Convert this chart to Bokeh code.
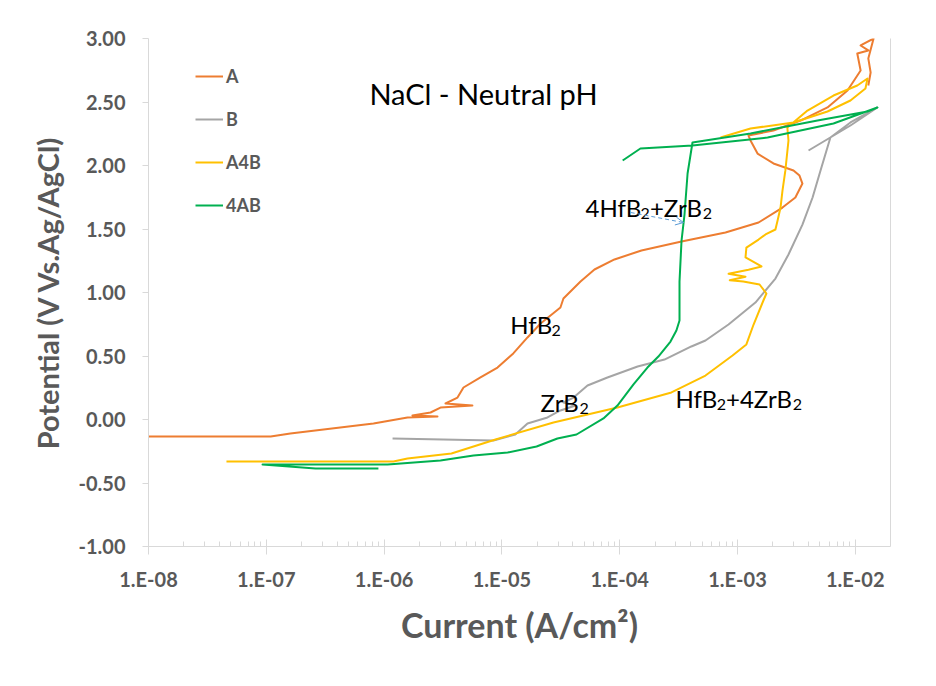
from bokeh.plotting import figure
from bokeh.models import (FixedTicker, PrintfTickFormatter, Legend, LegendItem,
                          Label, Arrow, OpenHead, LinearAxis, Range1d)
from bokeh.embed import file_html
from bokeh.resources import INLINE

# ---------------- data (current in A/cm2, potential in V vs Ag/AgCl) ----------------
a_current = [1.00e-8, 1.09e-7, 1.60e-7, 8.13e-7, 1.58e-6, 2.84e-6, 1.74e-6, 2.48e-6,
             3.01e-6, 5.62e-6, 3.32e-6, 4.20e-6, 4.72e-6, 6.58e-6, 9.18e-6, 1.25e-5,
             1.65e-5, 2.13e-5, 3.14e-5, 3.33e-5, 4.65e-5, 6.11e-5, 9.03e-5, 1.53e-4,
             3.35e-4, 7.91e-4, 1.51e-3, 2.41e-3, 3.10e-3, 3.56e-3, 3.36e-3, 2.99e-3,
             2.02e-3, 1.48e-3, 1.29e-3, 1.24e-3, 2.02e-3, 3.43e-3, 5.81e-3, 8.59e-3,
             1.11e-2, 1.04e-2, 1.29e-2, 1.11e-2, 1.43e-2, 1.29e-2, 1.35e-2, 1.29e-2]
a_potential = [-0.134, -0.134, -0.110, -0.031, 0.016, 0.024, 0.031, 0.055,
               0.094, 0.110, 0.126, 0.173, 0.252, 0.331, 0.409, 0.520,
               0.646, 0.756, 0.882, 0.953, 1.087, 1.181, 1.260, 1.331,
               1.402, 1.472, 1.551, 1.669, 1.748, 1.858, 1.921, 1.961,
               2.016, 2.094, 2.197, 2.236, 2.276, 2.354, 2.457, 2.591,
               2.748, 2.882, 2.906, 2.945, 3.000, 2.843, 2.732, 2.630]

b_current = [1.18e-6, 8.49e-6, 1.30e-5, 1.65e-5, 2.44e-5, 3.14e-5, 4.22e-5, 3.33e-5,
             4.06e-5, 5.33e-5, 7.87e-5, 1.42e-4, 2.40e-4, 4.06e-4, 5.35e-4, 8.39e-4,
             1.42e-3, 2.10e-3, 2.71e-3, 3.56e-3, 4.34e-3, 5.07e-3, 6.15e-3, 9.10e-3,
             1.54e-2, 9.10e-3, 4.01e-3]
b_potential = [-0.150, -0.165, -0.118, -0.031, 0.016, 0.071, 0.110, 0.134,
               0.173, 0.268, 0.331, 0.417, 0.472, 0.575, 0.622, 0.748,
               0.921, 1.110, 1.299, 1.535, 1.748, 1.961, 2.220, 2.339,
               2.457, 2.315, 2.118]

a4b_current = [4.59e-8, 1.20e-6, 1.58e-6, 3.73e-6, 8.83e-6, 2.74e-5, 9.57e-5, 2.75e-4,
               5.35e-4, 9.08e-4, 1.19e-3, 1.37e-3, 1.66e-3, 1.76e-3, 1.54e-3, 1.12e-3,
               8.60e-4, 1.17e-3, 8.40e-4, 1.24e-3, 1.60e-3, 1.17e-3, 1.19e-3, 1.51e-3,
               1.73e-3, 2.10e-3, 2.19e-3, 2.32e-3, 2.41e-3, 2.55e-3, 2.71e-3, 2.65e-3,
               3.93e-3, 6.53e-3, 1.04e-2, 1.27e-2, 1.22e-2, 9.10e-3, 5.81e-3, 2.99e-3,
               1.29e-3, 7.18e-4]
a4b_potential = [-0.331, -0.331, -0.307, -0.268, -0.157, -0.024, 0.094, 0.213,
                 0.346, 0.504, 0.591, 0.748, 0.937, 0.992, 1.063, 1.087,
                 1.097, 1.124, 1.147, 1.179, 1.205, 1.276, 1.354, 1.417,
                 1.457, 1.496, 1.567, 1.669, 1.803, 1.961, 2.197, 2.299,
                 2.433, 2.551, 2.630, 2.685, 2.606, 2.512, 2.425, 2.339,
                 2.291, 2.220]

ab4_current = [8.95e-7, 2.62e-7, 9.29e-8, 1.07e-6, 3.01e-6, 5.74e-6, 1.12e-5, 1.97e-5,
               2.96e-5, 4.30e-5, 7.28e-5, 9.57e-5, 1.31e-4, 1.72e-4, 2.13e-4, 2.70e-4,
               3.03e-4, 3.22e-4, 3.22e-4, 3.35e-4, 3.55e-4, 3.77e-4, 4.15e-4, 1.29e-3,
               4.78e-3, 1.27e-2, 1.54e-2, 6.53e-3, 1.80e-3, 4.15e-4, 1.50e-4, 1.06e-4]
ab4_potential = [-0.386, -0.386, -0.354, -0.354, -0.323, -0.283, -0.260, -0.213,
                 -0.150, -0.118, 0.008, 0.110, 0.276, 0.409, 0.496, 0.614,
                 0.701, 0.780, 1.087, 1.409, 1.614, 1.937, 2.181, 2.252,
                 2.354, 2.425, 2.457, 2.331, 2.220, 2.157, 2.134, 2.039]

series_names = ["A", "B", "A4B", "4AB"]
x_ticks = [1e-8, 1e-7, 1e-6, 1e-5, 1e-4, 1e-3, 1e-2]
x_tick_labels = ["1.E-08", "1.E-07", "1.E-06", "1.E-05", "1.E-04", "1.E-03", "1.E-02"]
y_ticks = [-1.0, -0.5, 0.0, 0.5, 1.0, 1.5, 2.0, 2.5, 3.0]

# ---------------- styling ----------------
FONT = "Lato"
GREY_TXT = "#595959"
AXIS_GREY = "#D9D9D9"
colors = ["#ED7D31", "#A5A5A5", "#FFC000", "#00B050"]

p = figure(width=936, height=686, x_axis_type="log", output_backend="svg",
           toolbar_location=None,
           x_range=Range1d(1e-8, 10 ** -1.701), y_range=Range1d(-1.0, 3.0),
           min_border_left=148, min_border_right=46, min_border_top=38,
           min_border_bottom=140)
p.outline_line_color = None
p.grid.visible = False
p.background_fill_color = "white"
p.border_fill_color = "white"

# x axis
minor = [m * d for d in x_ticks for m in range(2, 10)]
p.xaxis.ticker = FixedTicker(ticks=x_ticks, minor_ticks=minor)
p.xaxis.major_label_overrides = {t: l for t, l in zip(x_ticks, x_tick_labels)}
p.xaxis.axis_line_color = AXIS_GREY
p.xaxis.major_tick_line_color = AXIS_GREY
p.xaxis.minor_tick_line_color = AXIS_GREY
p.xaxis.major_tick_in = 7
p.xaxis.major_tick_out = 8
p.xaxis.minor_tick_in = 5
p.xaxis.minor_tick_out = 0
p.xaxis.major_label_text_font = FONT
p.xaxis.major_label_text_font_size = "20px"
p.xaxis.major_label_text_font_style = "bold"
p.xaxis.major_label_text_color = GREY_TXT
p.xaxis.major_label_standoff = 12
p.xaxis.axis_label = "Current (A/cm\u00b2)"
p.xaxis.axis_label_text_font = FONT
p.xaxis.axis_label_text_font_size = "34px"
p.xaxis.axis_label_text_font_style = "bold"
p.xaxis.axis_label_text_color = GREY_TXT
p.xaxis.axis_label_standoff = 10

# y axis
p.yaxis.ticker = FixedTicker(ticks=y_ticks)
p.yaxis.formatter = PrintfTickFormatter(format="%.2f")
p.yaxis.axis_line_color = AXIS_GREY
p.yaxis.major_tick_line_color = AXIS_GREY
p.yaxis.minor_tick_line_color = None
p.yaxis.major_tick_in = 0
p.yaxis.major_tick_out = 6
p.yaxis.major_label_text_font = FONT
p.yaxis.major_label_text_font_size = "20px"
p.yaxis.major_label_text_font_style = "bold"
p.yaxis.major_label_text_color = GREY_TXT
p.yaxis.major_label_standoff = 17
p.yaxis.axis_label = "Potential (V Vs.Ag/AgCl)"
p.yaxis.axis_label_text_font = FONT
p.yaxis.axis_label_text_font_size = "29px"
p.yaxis.axis_label_text_font_style = "bold"
p.yaxis.axis_label_text_color = GREY_TXT
p.yaxis.axis_label_standoff = 10

# right frame edge
right = LinearAxis(ticker=FixedTicker(ticks=[]), axis_line_color=AXIS_GREY,
                   major_tick_line_color=None, minor_tick_line_color=None,
                   major_label_text_font_size="0px")
p.add_layout(right, "right")

# ---------------- curves ----------------
all_x = [a_current, b_current, a4b_current, ab4_current]
all_y = [a_potential, b_potential, a4b_potential, ab4_potential]
items = []
for name, xs, ys, c in zip(series_names, all_x, all_y, colors):
    r = p.line(xs, ys, line_color=c, line_width=2, line_join="round")
    items.append(LegendItem(label=name, renderers=[r]))

legend = Legend(items=items, location=(47, 330), orientation="vertical",
                glyph_width=28, glyph_height=20, label_height=20,
                label_standoff=3, spacing=21, padding=0, margin=0,
                border_line_color=None, background_fill_alpha=0,
                label_text_font=FONT, label_text_font_size="18px",
                label_text_font_style="bold", label_text_color=GREY_TXT)
p.add_layout(legend, "center")

# ---------------- annotations ----------------
MAIN_PX = 24
SUB_PX = 16
EM = {"4": 0.58, "H": 0.74, "f": 0.33, "B": 0.645, "+": 0.58, "Z": 0.61,
      "r": 0.37, "2": 0.58}
SUB_DROP = 6 / 127.0  # subscript baseline drop (in volts on this axis)


def add_chem(x, y, parts):
    off = 0.0
    for txt, sub in parts:
        size = SUB_PX if sub else MAIN_PX
        p.add_layout(Label(x=x, y=(y - SUB_DROP) if sub else y, x_offset=off,
                           text=txt, text_font=FONT, text_font_size=f"{size}px",
                           text_color="black", text_baseline="alphabetic",
                           text_align="left"))
        off += sum(EM.get(ch, 0.55) for ch in txt) * size


p.add_layout(Label(x=7.5e-7, y=2.57, text="NaCl - Neutral pH", text_font=FONT,
                   text_font_size="29px", text_color="black",
                   text_baseline="alphabetic", text_align="left"))
add_chem(1.18e-5, 0.748, [("HfB", False), ("2", True)])
add_chem(2.13e-5, 0.134, [("ZrB", False), ("2", True)])
add_chem(5.13e-5, 1.669, [("4HfB", False), ("2", True), ("+ZrB", False), ("2", True)])
add_chem(2.98e-4, 0.165, [("HfB", False), ("2", True), ("+4ZrB", False), ("2", True)])

p.add_layout(Arrow(end=OpenHead(size=8, line_color="#5B9BD5", line_width=1),
                   x_start=1.24e-4, y_start=1.630, x_end=3.48e-4, y_end=1.551,
                   line_color="#5B9BD5", line_width=1, line_dash="4 3"))

open("out.html", "w").write(file_html(p, INLINE))
